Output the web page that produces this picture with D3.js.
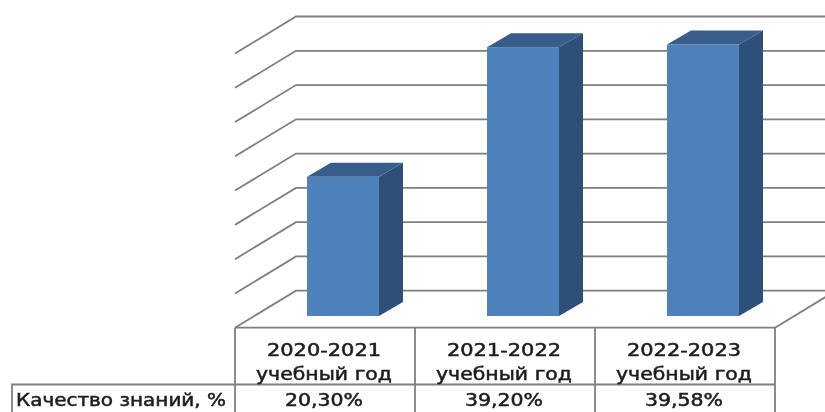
<!DOCTYPE html>
<html><head><meta charset="utf-8">
<script src="https://cdn.jsdelivr.net/npm/d3@7/dist/d3.min.js"></script>
<style>html,body{margin:0;padding:0;background:#fff;overflow:hidden}svg{display:block}text{font-family:"DejaVu Sans",sans-serif;fill:#1c1c1c;stroke:#1c1c1c;stroke-width:.5}</style>
</head><body><svg id="c" width="825" height="412"></svg>
<script>
const categories=["2020-2021","2021-2022","2022-2023"];
const categorySub="учебный год";
const seriesName="Качество знаний, %";
const values=[20.30,39.20,39.58];
const valueLabels=["20,30%","39,20%","39,58%"];
const gridTicks=[0,5,10,15,20,25,30,35,40];

const svg=d3.select("#c");
const x=d3.scaleBand().domain(categories).range([235,775]);
const yBack=d3.scaleLinear().domain([0,40]).range([290.7,16.5]);
const yBar=d3.scaleLinear().domain([0,40]).range([316,41.7]);
const floorDx=61,floorDy=37,barDx=24,barDy=14,barOff=72,barW=72;
const tableTop=327.7,rowY=384.5,tableBottom=416,tableLeft=12;
const soft=svg.append("defs").append("filter").attr("id","soft");
soft.append("feGaussianBlur").attr("stdDeviation",0.5);
const root=svg.append("g").attr("filter","url(#soft)");
const gridColor="#7f7f7f";

const grid=root.append("g");
grid.selectAll("path").data(gridTicks).join("path")
 .attr("d",d=>{const yb=yBack(d);return `M${235},${yb+floorDy}L${235+floorDx},${yb}L825,${yb}`;})
 .attr("fill","none").attr("stroke",gridColor).attr("stroke-width",1.8);
root.append("path").attr("d",`M775,${tableTop}L${775+floorDx},${tableTop-floorDy}`)
 .attr("stroke",gridColor).attr("stroke-width",1.8).attr("fill","none");

const bars=root.append("g").selectAll("g").data(categories.map((c,i)=>({c,v:values[i]}))).join("g");
bars.append("rect").attr("x",d=>x(d.c)+barOff).attr("y",d=>yBar(d.v)).attr("width",barW)
 .attr("height",d=>yBar(0)-yBar(d.v)).attr("fill","#4f81bd");
bars.append("path").attr("fill","#2f5078").attr("d",d=>{
 const a=x(d.c)+barOff+barW,t=yBar(d.v),b=yBar(0);
 return `M${a},${t}L${a+barDx},${t-barDy}L${a+barDx},${b-barDy}L${a},${b}Z`;});
bars.append("path").attr("fill","#385d8a").attr("d",d=>{
 const l=x(d.c)+barOff,a=l+barW,t=yBar(d.v);
 return `M${l},${t}L${l+barDx},${t-barDy}L${a+barDx},${t-barDy}L${a},${t}Z`;});

const tbl=root.append("g").attr("stroke",gridColor).attr("stroke-width",1.8).attr("fill","none");
tbl.append("path").attr("d",`M235,${tableTop}H775V${tableBottom}H${tableLeft}V${rowY}H775`);
categories.forEach(c=>tbl.append("path").attr("d",`M${x(c)},${tableTop}V${tableBottom}`));

const cx=c=>x(c)+x.bandwidth()/2-1;
const t=root.append("g").attr("text-anchor","middle").attr("font-size",17).attr("lengthAdjust","spacingAndGlyphs");
t.selectAll(".a").data(categories).join("text").attr("class","a").attr("x",cx).attr("y",355.5).attr("textLength",114).attr("lengthAdjust","spacingAndGlyphs").text(d=>d);
t.selectAll(".b").data(categories).join("text").attr("class","b").attr("x",cx).attr("y",380).attr("textLength",136).attr("lengthAdjust","spacingAndGlyphs").text(categorySub);
t.selectAll(".v").data(categories).join("text").attr("class","v").attr("x",cx).attr("y",406).attr("textLength",78).attr("lengthAdjust","spacingAndGlyphs").text((d,i)=>valueLabels[i]);
root.append("text").attr("x",16).attr("y",406).attr("font-size",17).attr("textLength",210).attr("lengthAdjust","spacingAndGlyphs").text(seriesName);
</script></body></html>
